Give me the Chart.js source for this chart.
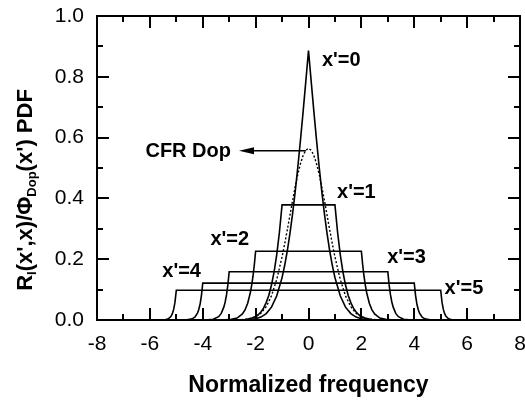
<!DOCTYPE html>
<html>
<head>
<meta charset="utf-8">
<script src="https://cdn.jsdelivr.net/npm/chart.js@4.4.0/dist/chart.umd.min.js"></script>
<style>
  html, body { margin: 0; padding: 0; background: #fff; }
</style>
</head>
<body>
<canvas id="chart" width="525" height="405"></canvas>
<script>
// 1. Data
const xPeak = [-3, -2.6, -2.3, -2, -1.8, -1.6, -1.4, -1.2, -1, -0.9, -0.8, -0.7, -0.6, -0.5, -0.4, -0.3, -0.2, -0.1, 0, 0.1, 0.2, 0.3, 0.4, 0.5, 0.6, 0.7, 0.8, 0.9, 1, 1.2, 1.4, 1.6, 1.8, 2, 2.3, 2.6, 3];
const yPeak = [0, 0.0002, 0.001, 0.0041, 0.0097, 0.021, 0.0423, 0.0795, 0.1394, 0.18, 0.2286, 0.2855, 0.351, 0.4249, 0.5066, 0.595, 0.6889, 0.7865, 0.8862, 0.7865, 0.6889, 0.595, 0.5066, 0.4249, 0.351, 0.2855, 0.2286, 0.18, 0.1394, 0.0795, 0.0423, 0.021, 0.0097, 0.0041, 0.001, 0.0002, 0];

const xDop = [-3, -2.6, -2.3, -2, -1.8, -1.6, -1.4, -1.2, -1, -0.9, -0.8, -0.7, -0.6, -0.5, -0.4, -0.3, -0.2, -0.1, 0, 0.1, 0.2, 0.3, 0.4, 0.5, 0.6, 0.7, 0.8, 0.9, 1, 1.2, 1.4, 1.6, 1.8, 2, 2.3, 2.6, 3];
const yDop = [0.0001, 0.0007, 0.0028, 0.0103, 0.0221, 0.0436, 0.0795, 0.1337, 0.2076, 0.251, 0.2975, 0.3456, 0.3936, 0.4394, 0.4808, 0.5156, 0.5421, 0.5586, 0.5642, 0.5586, 0.5421, 0.5156, 0.4808, 0.4394, 0.3936, 0.3456, 0.2975, 0.251, 0.2076, 0.1337, 0.0795, 0.0436, 0.0221, 0.0103, 0.0028, 0.0007, 0.0001];

const x1 = [-3, -2.7, -2.4, -2.2, -2, -1.9, -1.8, -1.7, -1.6, -1.5, -1.4, -1.3, -1.2, -1.1, -1, 1, 1.1, 1.2, 1.3, 1.4, 1.5, 1.6, 1.7, 1.8, 1.9, 2, 2.2, 2.4, 2.7, 3];
const y1 = [0, 0.0003, 0.0017, 0.0045, 0.0113, 0.0174, 0.0263, 0.039, 0.0571, 0.0816, 0.1149, 0.1589, 0.216, 0.2886, 0.3788, 0.3788, 0.2886, 0.216, 0.1589, 0.1149, 0.0816, 0.0571, 0.039, 0.0263, 0.0174, 0.0113, 0.0045, 0.0017, 0.0003, 0];

const x2 = [-3.5, -3.3, -3, -2.7, -2.5, -2.4, -2.3, -2.2, -2.15, -2.1, -2.05, -2, 2, 2.05, 2.1, 2.15, 2.2, 2.3, 2.4, 2.5, 2.7, 3, 3.3, 3.5];
const y2 = [0, 0.0002, 0.0011, 0.0065, 0.0197, 0.0333, 0.0553, 0.0901, 0.114, 0.144, 0.181, 0.2263, 0.2263, 0.181, 0.144, 0.114, 0.0901, 0.0553, 0.0333, 0.0197, 0.0065, 0.0011, 0.0002, 0];

const x3 = [-4.2, -3.8, -3.6, -3.4, -3.3, -3.2, -3.15, -3.1, -3.05, -3, 3, 3.05, 3.1, 3.15, 3.2, 3.3, 3.4, 3.6, 3.8, 4.2];
const y3 = [0, 0.0005, 0.0025, 0.0108, 0.0218, 0.043, 0.06, 0.0834, 0.1154, 0.1587, 0.1587, 0.1154, 0.0834, 0.06, 0.043, 0.0218, 0.0108, 0.0025, 0.0005, 0];

const x4 = [-5, -4.6, -4.4, -4.3, -4.2, -4.15, -4.1, -4.05, -4, 4, 4.05, 4.1, 4.15, 4.2, 4.3, 4.4, 4.6, 5];
const y4 = [0, 0.0006, 0.0038, 0.0094, 0.0224, 0.0345, 0.0527, 0.0802, 0.1214, 0.1214, 0.0802, 0.0527, 0.0345, 0.0224, 0.0094, 0.0038, 0.0006, 0];

const x5 = [-5.8, -5.6, -5.4, -5.3, -5.2, -5.15, -5.1, -5.05, -5, 5, 5.05, 5.1, 5.15, 5.2, 5.3, 5.4, 5.6, 5.8];
const y5 = [0, 0.0002, 0.0014, 0.0042, 0.0122, 0.0207, 0.0349, 0.0586, 0.0978, 0.0978, 0.0586, 0.0349, 0.0207, 0.0122, 0.0042, 0.0014, 0.0002, 0];

// tick values
const xTicks = [-8, -6, -4, -2, 0, 2, 4, 6, 8];
const yTicks = [0, 0.2, 0.4, 0.6, 0.8, 1.0];
const xMinorTicks = [-7, -5, -3, -1, 1, 3, 5, 7];
const yMinorTicks = [0.1, 0.3, 0.5, 0.7, 0.9];

// curve labels (data coords)
const curveLabels = ["x'=0", "x'=1", "x'=2", "x'=3", "x'=4", "x'=5"];
const labelX = [1.24, 1.81, -2.98, 3.71, -4.8, 5.88];
const labelY = [0.855, 0.418, 0.266, 0.204, 0.161, 0.105];
const dopLabel = 'CFR Dop';
const dopLabelPos = [-4.55, 0.554];
const dopArrow = [-0.1, -2.63, 0.557]; // from x, to x, at y

const TICK_FONT = "'Liberation Sans', Arial, sans-serif";
const BOLD_FONT = "'Liberation Sans', Arial, sans-serif";

// 2. Build datasets
function toPoints(xs, ys) {
    return xs.map((x, i) => ({ x: x, y: ys[i] }));
}

function solid(xs, ys) {
    return {
        data: toPoints(xs, ys),
        showLine: true,
        borderColor: '#000',
        borderWidth: 1.6,
        pointRadius: 0,
        tension: 0
    };
}

const datasets = [
    solid(x5, y5),
    solid(x4, y4),
    solid(x3, y3),
    solid(x2, y2),
    solid(x1, y1),
    solid(xPeak, yPeak),
    {
        data: toPoints(xDop, yDop),
        showLine: true,
        borderColor: '#000',
        borderWidth: 1.4,
        borderDash: [2, 2],
        pointRadius: 0,
        tension: 0
    }
];

// 3. Frame, inward ticks and text
const decor = {
    id: 'decor',
    afterDraw(chart) {
        const c = chart.ctx;
        const a = chart.chartArea;
        const sx = chart.scales.x;
        const sy = chart.scales.y;
        c.save();
        c.setLineDash([]);
        c.strokeStyle = '#000';
        c.fillStyle = '#000';
        c.lineWidth = 2;

        c.strokeRect(a.left, a.top, a.right - a.left, a.bottom - a.top);

        // inward ticks on all four sides
        c.beginPath();
        const addX = (v, len) => {
            const px = Math.round(sx.getPixelForValue(v));
            c.moveTo(px, a.bottom); c.lineTo(px, a.bottom - len);
            c.moveTo(px, a.top); c.lineTo(px, a.top + len);
        };
        const addY = (v, len) => {
            const py = Math.round(sy.getPixelForValue(v));
            c.moveTo(a.left, py); c.lineTo(a.left + len, py);
            c.moveTo(a.right, py); c.lineTo(a.right - len, py);
        };
        xTicks.forEach(v => addX(v, 12));
        xMinorTicks.forEach(v => addX(v, 6));
        yTicks.forEach(v => addY(v, 12));
        yMinorTicks.forEach(v => addY(v, 6));
        c.stroke();

        // curve labels
        c.font = 'bold 20px ' + BOLD_FONT;
        c.textAlign = 'center';
        c.textBaseline = 'middle';
        curveLabels.forEach((t, i) => {
            c.fillText(t, sx.getPixelForValue(labelX[i]), sy.getPixelForValue(labelY[i]));
        });
        c.fillText(dopLabel, sx.getPixelForValue(dopLabelPos[0]), sy.getPixelForValue(dopLabelPos[1]));

        // arrow pointing at the CFR label
        const ay = sy.getPixelForValue(dopArrow[2]);
        const ax0 = sx.getPixelForValue(dopArrow[0]);
        const ax1 = sx.getPixelForValue(dopArrow[1]);
        c.lineWidth = 1.5;
        c.beginPath();
        c.moveTo(ax0, ay);
        c.lineTo(ax1 + 12, ay);
        c.stroke();
        c.beginPath();
        c.moveTo(ax1, ay);
        c.lineTo(ax1 + 15, ay - 3.5);
        c.lineTo(ax1 + 15, ay + 3.5);
        c.closePath();
        c.fill();

        // x axis title
        c.font = 'bold 23px ' + BOLD_FONT;
        c.fillText('Normalized frequency', (a.left + a.right) / 2, 386);

        // y axis title with subscripts
        const main = 'bold 22px ' + BOLD_FONT;
        const sub = 'bold 13px ' + BOLD_FONT;
        const parts = [
            { t: 'R', f: main, dy: 0 },
            { t: 'I', f: sub, dy: 6 },
            { t: "(x',x)/\u03A6", f: main, dy: 0 },
            { t: 'Dop', f: sub, dy: 6 },
            { t: "(x') PDF", f: main, dy: 0 }
        ];
        let total = 0;
        parts.forEach(p => { c.font = p.f; p.w = c.measureText(p.t).width; total += p.w; });
        c.translate(26, 190);
        c.rotate(-Math.PI / 2);
        c.textAlign = 'left';
        c.textBaseline = 'middle';
        let cx = -total / 2;
        parts.forEach(p => {
            c.font = p.f;
            c.fillText(p.t, cx, p.dy);
            cx += p.w;
        });
        c.restore();
    }
};

// 4. Chart
const ctx = document.getElementById('chart').getContext('2d');
new Chart(ctx, {
    type: 'scatter',
    data: { datasets: datasets },
    options: {
        responsive: false,
        animation: false,
        devicePixelRatio: 1,
        layout: { padding: { left: 0, right: 5, top: 16, bottom: 0 } },
        plugins: {
            legend: { display: false },
            tooltip: { enabled: false }
        },
        scales: {
            x: {
                type: 'linear',
                min: -8,
                max: 8,
                grid: { display: false, drawTicks: false },
                border: { display: false },
                afterBuildTicks: s => { s.ticks = xTicks.map(v => ({ value: v })); },
                ticks: {
                    color: '#000',
                    padding: 12,
                    maxRotation: 0,
                    font: { family: TICK_FONT, size: 21 },
                    callback: v => String(v)
                },
                afterFit: s => { s.height = 85; s.paddingLeft = 0; s.paddingRight = 0; }
            },
            y: {
                type: 'linear',
                min: 0,
                max: 1,
                grid: { display: false, drawTicks: false },
                border: { display: false },
                afterBuildTicks: s => { s.ticks = yTicks.map(v => ({ value: v })); },
                ticks: {
                    color: '#000',
                    padding: 13,
                    font: { family: TICK_FONT, size: 21 },
                    callback: v => v.toFixed(1)
                },
                afterFit: s => { s.width = 97; s.paddingTop = 0; s.paddingBottom = 0; }
            }
        }
    },
    plugins: [decor]
});
</script>
</body>
</html>
